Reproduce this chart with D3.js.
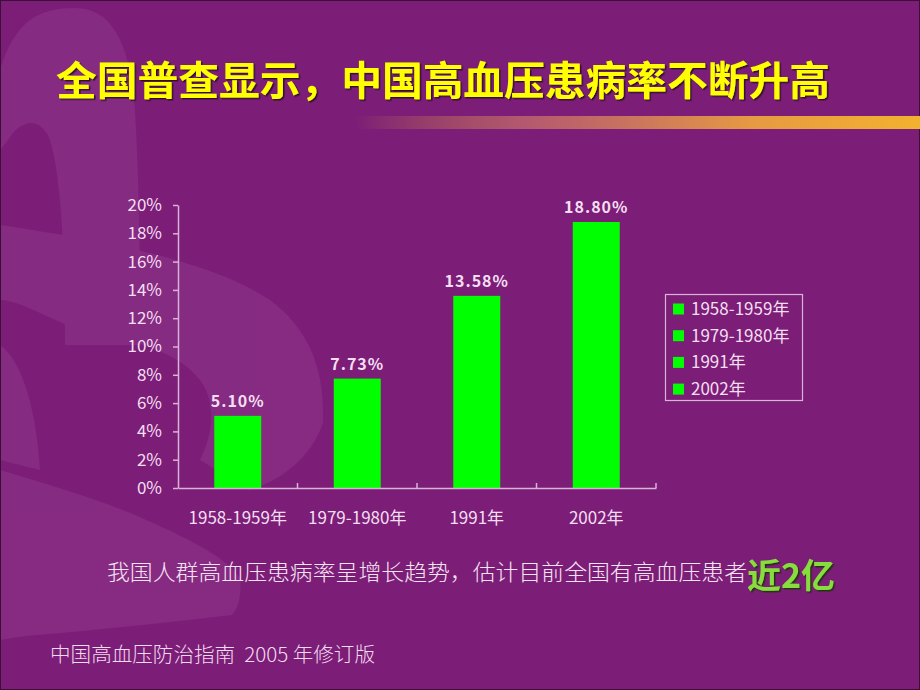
<!DOCTYPE html>
<html>
<head>
<meta charset="utf-8">
<script src="https://cdn.jsdelivr.net/npm/d3@7"></script>
<style>
  html, body { margin: 0; padding: 0; background: #7c1e77; }
  svg { display: block; }
  text { font-family: "Noto Sans CJK SC", "Noto Sans", sans-serif; }
</style>
</head>
<body>
<svg id="chart" width="920" height="690"></svg>
<script>
// ---- data ----
const categories = ["1958-1959年", "1979-1980年", "1991年", "2002年"];
const values = [5.10, 7.73, 13.58, 18.80];
const yTicks = [0, 2, 4, 6, 8, 10, 12, 14, 16, 18, 20];
const titleText = "全国普查显示，中国高血压患病率不断升高";
const subtitleText = "我国人群高血压患病率呈增长趋势，估计目前全国有高血压患者";
const highlightText = "近2亿";
const footerText = "中国高血压防治指南  2005 年修订版";

const svg = d3.select("#chart");
const W = 920, H = 690;

// ---- background ----
svg.append("rect").attr("width", W).attr("height", H).attr("fill", "#7c1e77");
const wm = svg.append("g").attr("fill", "#9a4898").attr("opacity", 0.32);
// decorative watermark ribbons
wm.append("path").attr("d", "M0,70 C15,20 40,8 75,8 C110,8 130,40 135,110 C140,200 140,280 140,345 L65,345 C65,260 62,180 50,140 C40,115 20,120 8,140 L0,150 Z");
wm.append("path").attr("d", "M0,225 C100,240 210,260 270,300 C310,330 325,370 323,423 C310,460 280,480 250,490 L200,460 C215,430 215,400 200,380 C180,355 150,345 100,335 C60,328 25,300 0,300 Z");
wm.append("path").attr("d", "M0,470 C50,485 100,500 135,515 C180,535 225,555 240,578 C242,595 238,608 232,615 C170,622 100,630 25,636 L0,640 Z");
wm.append("path").attr("d", "M0,345 C20,360 35,400 40,470 L0,460 Z");

// border
svg.append("rect").attr("x", 0.5).attr("y", 0.5).attr("width", W - 1).attr("height", H - 1)
  .attr("fill", "none").attr("stroke", "#3a1038").attr("stroke-width", 1);

// ---- title ----
const defs = svg.append("defs");
const f = defs.append("filter").attr("id", "shadow").attr("x", "-5%").attr("y", "-20%").attr("width", "110%").attr("height", "140%");
f.append("feDropShadow").attr("dx", 1.5).attr("dy", 1.5).attr("stdDeviation", 0.6).attr("flood-color", "#2a0a20").attr("flood-opacity", 0.9);

svg.append("text")
  .attr("x", 56).attr("y", 95)
  .attr("font-size", 40).attr("font-weight", 700)
  .attr("fill", "#ffff00")
  .attr("textLength", 774).attr("lengthAdjust", "spacingAndGlyphs")
  .attr("filter", "url(#shadow)")
  .text(titleText);

// gradient rule
const grad = defs.append("linearGradient").attr("id", "rule").attr("x1", "0%").attr("x2", "100%");
grad.append("stop").attr("offset", "0%").attr("stop-color", "#f0b030").attr("stop-opacity", 0);
grad.append("stop").attr("offset", "30%").attr("stop-color", "#d8806a").attr("stop-opacity", 0.6);
grad.append("stop").attr("offset", "70%").attr("stop-color", "#eca040").attr("stop-opacity", 0.95);
grad.append("stop").attr("offset", "100%").attr("stop-color", "#f2b22e").attr("stop-opacity", 1);
svg.append("rect").attr("x", 355).attr("y", 116).attr("width", 565).attr("height", 13).attr("fill", "url(#rule)");

// ---- chart ----
const x0 = 178, x1 = 656, yTop = 205, yBot = 488;
const x = d3.scaleBand().domain(categories).range([x0, x1]).paddingInner(0.607).paddingOuter(0.3035);
const xb = d3.scaleBand().domain(categories).range([x0, x1]).padding(0);
const y = d3.scaleLinear().domain([0, 20]).range([yBot, yTop]);

const axisColor = "#d9b2d8";
const textColor = "#f4dff2";

// y axis
const yAxis = svg.append("g").attr("transform", `translate(${x0},0)`)
  .call(d3.axisLeft(y).tickValues(yTicks).tickFormat(d => d + "%").tickSize(5).tickPadding(11).tickSizeOuter(0));
yAxis.select(".domain").attr("stroke", axisColor).attr("stroke-width", 1.5);
yAxis.selectAll(".tick line").attr("stroke", axisColor).attr("stroke-width", 1.5);
yAxis.selectAll(".tick text").attr("fill", textColor).attr("font-size", 17);

// bars
svg.append("g").selectAll("rect").data(values).join("rect")
  .attr("x", (d, i) => x(categories[i]))
  .attr("y", d => y(d))
  .attr("width", x.bandwidth())
  .attr("height", d => yBot - y(d))
  .attr("fill", "#00ff00");

// x axis
const xAxis = svg.append("g").attr("transform", `translate(0,${yBot})`)
  .call(d3.axisBottom(xb).tickSize(0).tickPadding(24).tickSizeOuter(0));
xAxis.select(".domain").attr("stroke", axisColor).attr("stroke-width", 1.5);
xAxis.selectAll(".tick text").attr("fill", textColor).attr("font-size", 17);
// boundary ticks pointing up
const bounds = categories.map(c => xb(c) + xb.bandwidth());
svg.append("g").selectAll("line").data(bounds).join("line")
  .attr("x1", d => d).attr("x2", d => d)
  .attr("y1", yBot).attr("y2", yBot - 5)
  .attr("stroke", axisColor).attr("stroke-width", 1.5);

// value labels
svg.append("g").selectAll("text").data(values).join("text")
  .attr("x", (d, i) => x(categories[i]) + x.bandwidth() / 2)
  .attr("y", d => y(d) - 9)
  .attr("text-anchor", "middle")
  .attr("font-size", 16).attr("font-weight", 700)
  .attr("letter-spacing", 1)
  .attr("fill", textColor)
  .text(d => d.toFixed(2) + "%");

// legend
const lg = svg.append("g");
lg.append("rect").attr("x", 665.5).attr("y", 294.5).attr("width", 137).attr("height", 106)
  .attr("fill", "none").attr("stroke", axisColor).attr("stroke-width", 1.2);
const items = lg.selectAll("g.item").data(categories).join("g").attr("class", "item")
  .attr("transform", (d, i) => `translate(673,${309 + i * 26.7})`);
items.append("rect").attr("x", 0).attr("y", -5.5).attr("width", 11).attr("height", 11).attr("fill", "#00ff00");
items.append("text").attr("x", 18).attr("y", 6).attr("font-size", 17).attr("fill", textColor).text(d => d);

// ---- subtitle ----
svg.append("text")
  .attr("x", 107).attr("y", 580)
  .attr("font-size", 22).attr("font-weight", 300)
  .attr("fill", "#f6e4f4")
  .attr("textLength", 640).attr("lengthAdjust", "spacingAndGlyphs")
  .text(subtitleText);

const f2 = defs.append("filter").attr("id", "shadow2").attr("x", "-10%").attr("y", "-20%").attr("width", "120%").attr("height", "140%");
f2.append("feDropShadow").attr("dx", 1.5).attr("dy", 1.5).attr("stdDeviation", 0.5).attr("flood-color", "#1e3010").attr("flood-opacity", 0.95);
svg.append("text")
  .attr("x", 747).attr("y", 588)
  .attr("font-size", 34).attr("font-weight", 700)
  .attr("fill", "#86dd3c")
  .attr("textLength", 88).attr("lengthAdjust", "spacingAndGlyphs")
  .attr("filter", "url(#shadow2)")
  .text(highlightText);

// ---- footer ----
svg.append("text")
  .attr("x", 50).attr("y", 662)
  .attr("font-size", 20).attr("font-weight", 300)
  .attr("fill", "#f2dcf0")
  .attr("textLength", 325).attr("lengthAdjust", "spacingAndGlyphs")
  .style("white-space", "pre")
  .text(footerText);
</script>
</body>
</html>
